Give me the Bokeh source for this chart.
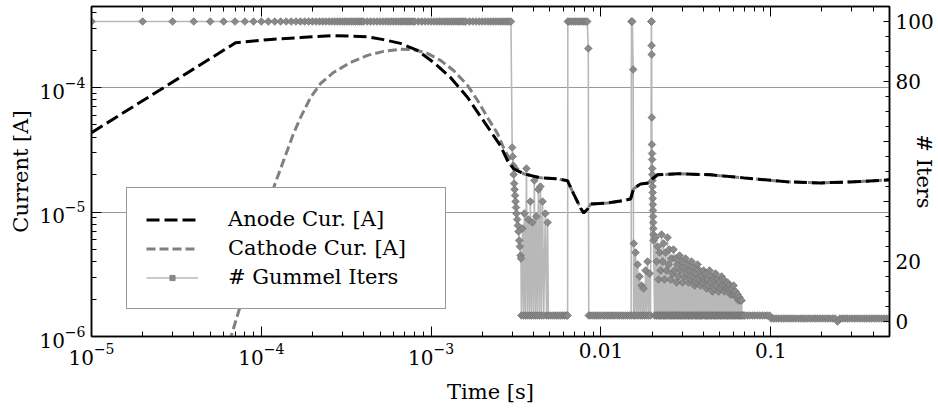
import numpy as np
from bokeh.plotting import figure
from bokeh.models import (Range1d, LinearAxis, LogAxis, FixedTicker, LogTickFormatter, LinearScale,
                          CustomJSTickFormatter, Legend, LegendItem, ColumnDataSource)
from bokeh.embed import file_html
from bokeh.resources import INLINE

# ---------------- data ----------------
anode_time = [1.0e-5, 7.05e-5, 1.088e-4, 1.70e-4, 2.66e-4, 4.22e-4, 5.24e-4, 6.60e-4, 8.31e-4,
              1.033e-3, 1.30e-3, 1.64e-3, 2.03e-3, 2.56e-3, 2.82e-3, 3.06e-3, 3.50e-3, 4.41e-3,
              5.55e-3, 6.36e-3, 6.90e-3, 7.58e-3, 7.90e-3, 8.34e-3, 8.69e-3, 1.094e-2, 1.304e-2,
              1.494e-2, 1.556e-2, 1.711e-2, 1.907e-2, 2.013e-2, 2.154e-2, 2.83e-2, 4.42e-2,
              6.92e-2, 0.1256, 0.1965, 0.3073, 0.5006]
anode_current = [4.34e-5, 2.285e-4, 2.424e-4, 2.517e-4, 2.612e-4, 2.555e-4, 2.424e-4, 2.263e-4,
                 1.988e-4, 1.591e-4, 1.204e-4, 8.31e-5, 5.42e-5, 3.41e-5, 2.58e-5, 2.22e-5,
                 2.03e-5, 1.88e-5, 1.85e-5, 1.78e-5, 1.40e-5, 1.077e-5, 9.81e-6, 1.057e-5,
                 1.16e-5, 1.18e-5, 1.227e-5, 1.273e-5, 1.533e-5, 1.682e-5, 1.713e-5, 1.85e-5,
                 1.99e-5, 2.03e-5, 1.99e-5, 1.88e-5, 1.746e-5, 1.713e-5, 1.746e-5, 1.812e-5]

# cathode current: rising branch, then identical to the anode current after ~3.5 ms
cathode_time_rise = [6.50e-5, 7.44e-5, 8.64e-5, 1.017e-4, 1.18e-4, 1.351e-4, 1.547e-4, 1.70e-4,
                     1.949e-4, 2.232e-4, 2.66e-4, 3.35e-4, 4.22e-4, 5.24e-4, 6.60e-4, 7.87e-4,
                     9.52e-4, 1.136e-3, 1.355e-3, 1.64e-3, 1.877e-3, 2.149e-3, 2.46e-3, 2.67e-3,
                     2.935e-3, 3.23e-3]
cathode_current_rise = [9.1e-7, 1.68e-6, 3.67e-6, 8.15e-6, 1.561e-5, 2.58e-5, 4.26e-5, 5.73e-5,
                        8.31e-5, 1.077e-4, 1.321e-4, 1.591e-4, 1.812e-4, 1.951e-4, 2.025e-4,
                        2.014e-4, 1.88e-4, 1.651e-4, 1.371e-4, 1.038e-4, 7.86e-5, 5.73e-5,
                        4.26e-5, 3.28e-5, 2.58e-5, 2.22e-5]
merge_index = 16  # cathode joins the anode curve from here on

# Gummel iterations per time step (time in ms)
gummel_t_a = [0.01, 0.02, 0.03, 0.04, 0.05, 0.06, 0.07, 0.08, 0.09, 0.10,
              0.11, 0.12, 0.13, 0.14, 0.15, 0.16, 0.17, 0.18, 0.19, 0.20,
              0.21, 0.22, 0.23, 0.24, 0.25, 0.26, 0.27, 0.28, 0.29, 0.30,
              0.31, 0.32, 0.33, 0.34, 0.35, 0.36, 0.37, 0.38, 0.39, 0.40,
              0.42, 0.44, 0.46, 0.48, 0.50, 0.52, 0.54, 0.56, 0.58, 0.60,
              0.62, 0.64, 0.66, 0.68, 0.70, 0.72, 0.74, 0.76, 0.78, 0.80,
              0.84, 0.88, 0.92, 0.96, 1.00, 1.04, 1.08, 1.12, 1.16, 1.20,
              1.24, 1.28, 1.32, 1.36, 1.40, 1.44, 1.48, 1.52, 1.56, 1.60,
              1.68, 1.76, 1.84, 1.92, 2.00, 2.08, 2.16, 2.24, 2.32, 2.40,
              2.48, 2.56, 2.64, 2.72, 2.80, 2.88, 2.95]
gummel_n_a = [100, 100, 100, 100, 100, 100, 100, 100, 100, 100,
              100, 100, 100, 100, 100, 100, 100, 100, 100, 100,
              100, 100, 100, 100, 100, 100, 100, 100, 100, 100,
              100, 100, 100, 100, 100, 100, 100, 100, 100, 100,
              100, 100, 100, 100, 100, 100, 100, 100, 100, 100,
              100, 100, 100, 100, 100, 100, 100, 100, 100, 100,
              100, 100, 100, 100, 100, 100, 100, 100, 100, 100,
              100, 100, 100, 100, 100, 100, 100, 100, 100, 100,
              100, 100, 100, 100, 100, 100, 100, 100, 100, 100,
              100, 100, 100, 100, 100, 100, 100]

gummel_t_b = [3.00, 3.02, 3.04, 3.06, 3.08, 3.10, 3.12, 3.14, 3.16, 3.18, 3.21, 3.24, 3.27, 3.30,
              3.33, 3.36, 3.38,
              3.40, 3.45, 3.50, 3.54, 3.59, 3.64, 3.69, 3.74, 3.79, 3.84, 3.89, 3.94, 4.00, 4.05,
              4.11, 4.16, 4.22, 4.28, 4.34, 4.40, 4.46, 4.53, 4.60, 4.70, 4.78, 4.85, 4.90,
              5.05, 5.20, 5.35, 5.50, 5.65, 5.80, 5.95, 6.10, 6.25, 6.36,
              6.38, 6.50, 6.70, 6.90, 7.10, 7.30, 7.50, 7.70, 7.90, 8.10, 8.30, 8.42, 8.47,
              8.70, 8.95, 9.20, 9.45, 9.70, 10.0, 10.3, 10.6, 10.9, 11.2, 11.5, 11.8, 12.1, 12.45,
              12.8, 13.15, 13.5, 13.9, 14.3, 14.7, 15.05,
              15.12, 15.30, 15.48, 15.56]
gummel_n_b = [58, 55, 52, 49, 46, 44, 42, 40, 38, 36, 34, 32, 30, 27, 25, 22, 21,
              2, 31, 2, 36, 2, 51, 2, 34, 2, 40, 2, 33, 2, 47, 2, 35, 2, 44, 2, 45, 2, 40, 2, 36,
              2, 33, 2,
              2, 2, 2, 2, 2, 2, 2, 2, 2, 2,
              100, 100, 100, 100, 100, 100, 100, 100, 100, 100, 100, 91, 2,
              2, 2, 2, 2, 2, 2, 2, 2, 2, 2, 2, 2, 2, 2, 2, 2, 2, 2, 2, 2, 2,
              100, 100, 84, 2]

gummel_t_c = [15.60, 15.77, 15.98, 16.20, 16.42, 16.64, 16.87, 17.10, 17.34, 17.58, 17.81, 18.05,
              18.30, 18.55, 18.81, 19.07, 19.32, 19.58,
              19.80, 19.83, 19.86, 19.89, 19.92, 19.95, 19.98, 20.01, 20.04, 20.07, 20.10, 20.13,
              20.16, 20.19, 20.22, 20.25, 20.28, 20.31, 20.34, 20.37, 20.40, 20.68]
gummel_n_c = [26, 2, 23, 2, 19, 2, 15, 2, 12, 2, 11, 2, 17, 2, 20, 2, 16, 2,
              100, 100, 92, 89, 68, 59, 56, 54, 51, 49, 47, 45, 43, 41, 39, 37, 35, 33, 31, 29,
              27, 2]

# 20-68 ms: every step alternates between a converging step (upper band) and a 2-iteration step
gummel_t_band = [20.96, 21.25, 21.54, 21.83, 22.13, 22.43, 22.74, 23.05, 23.36, 23.68,
                 24.00, 24.33, 24.66, 25.00, 25.34, 25.69, 26.04, 26.39, 26.75, 27.12,
                 27.49, 27.86, 28.25, 28.63, 29.02, 29.42, 29.82, 30.23, 30.64, 31.06,
                 31.48, 31.91, 32.35, 32.79, 33.24, 33.69, 34.15, 34.62, 35.09, 35.57,
                 36.05, 36.54, 37.04, 37.55, 38.06, 38.58, 39.11, 39.64, 40.18, 40.73,
                 41.29, 41.85, 42.42, 43.00, 43.59, 44.18, 44.79, 45.40, 46.02, 46.65,
                 47.28, 47.93, 48.58, 49.24, 49.92, 50.60, 51.29, 51.99, 52.70, 53.42,
                 54.15, 54.89, 55.64, 56.40, 57.17, 57.95, 58.74, 59.54, 60.35, 61.17,
                 62.01, 62.86, 63.71, 64.58, 65.47, 66.36, 67.26]
gummel_n_band = [28, 20, 25, 14, 23, 17, 29, 20, 26, 14, 23, 17, 28, 19, 24, 14, 21, 16,
                 24, 17, 21, 13, 19, 15, 22, 17, 20, 13, 18, 15, 21, 16, 19, 13, 17, 14,
                 20, 15, 18, 12, 16, 13, 19, 14, 17, 12, 15, 13, 17, 14, 16, 11, 14, 12,
                 17, 13, 15, 10, 14, 11, 16, 12, 14, 10, 13, 11, 15, 12, 14, 10, 12, 11,
                 13, 11, 12, 9, 11, 9, 12, 9, 10, 8, 9, 7, 8, 7, 7]
gummel_t_band_low = [21.10, 21.39, 21.68, 21.98, 22.28, 22.58, 22.89, 23.21, 23.52, 23.84,
                     24.16, 24.50, 24.83, 25.17, 25.51, 25.86, 26.22, 26.57, 26.94, 27.30,
                     27.68, 28.05, 28.44, 28.82, 29.22, 29.62, 30.02, 30.43, 30.85, 31.27,
                     31.70, 32.13, 32.57, 33.01, 33.46, 33.92, 34.38, 34.85, 35.33, 35.81,
                     36.30, 36.79, 37.29, 37.80, 38.32, 38.84, 39.37, 39.91, 40.46, 41.01,
                     41.57, 42.13, 42.71, 43.29, 43.88, 44.48, 45.09, 45.71, 46.33, 46.96,
                     47.60, 48.25, 48.91, 49.58, 50.26, 50.94, 51.64, 52.34, 53.06, 53.78,
                     54.52, 55.26, 56.01, 56.78, 57.55, 58.34, 59.13, 59.94, 60.76, 61.59,
                     62.43, 63.28, 64.14, 65.02, 65.91, 66.81, 67.72]
band_low_iters = 2

gummel_t_d = [68.6, 69.5, 70.5, 72.9, 75.4, 78.0, 80.6, 83.3, 86.1, 89.0, 92.0, 95.1, 98.3,
              100.5, 104, 107.5, 111, 115, 119, 123, 127, 131, 135.5, 140, 145, 150, 155, 160,
              165.5, 171, 177, 183, 189, 195.5, 202, 209, 216, 223, 231, 239, 247, 255, 264, 273,
              282, 292, 302, 312, 322, 333, 344, 356, 368, 380, 393, 406, 420, 434, 449, 464, 480,
              496, 512]
gummel_n_d = [2, 2, 2, 2, 2, 2, 2, 2, 2, 2, 2, 2, 2,
              1, 1, 1, 1, 1, 1, 1, 1, 1, 1, 1, 1, 1, 1, 1,
              1, 1, 1, 1, 1, 1, 1, 1, 1, 1, 1, 1, 0, 1, 1, 1,
              1, 1, 1, 1, 1, 1, 1, 1, 1, 1, 1, 1, 1, 1, 1, 1, 1,
              1, 1]

x_major_ticks = [1e-5, 1e-4, 1e-3, 1e-2, 1e-1]
y_major_ticks = [1e-6, 1e-5, 1e-4]
iter_ticks = [0, 20, 40, 60, 80, 100]

# ---------------- build ----------------
FONT = "DejaVu Serif"

cathode_time = cathode_time_rise + anode_time[merge_index:]
cathode_current = cathode_current_rise + anode_current[merge_index:]

band_t, band_n = [], []
for th, nh, tl in zip(gummel_t_band, gummel_n_band, gummel_t_band_low):
    band_t += [th, tl]
    band_n += [nh, band_low_iters]

g_t = gummel_t_a + gummel_t_b + gummel_t_c + band_t + gummel_t_d
g_n = gummel_n_a + gummel_n_b + gummel_n_c + band_n + gummel_n_d
n = min(len(g_t), len(g_n))
gsrc = ColumnDataSource(dict(t=np.array(g_t[:n]) * 1e-3, n=g_n[:n]))

Y_TOP = 4.474e-4
p = figure(width=938, height=408, x_axis_type="log", y_axis_type="log",
           x_range=Range1d(1e-5, 0.5), y_range=Range1d(1e-6, Y_TOP),
           output_backend="svg", toolbar_location=None,
           min_border_left=91, min_border_right=49, min_border_top=6, min_border_bottom=72,
           background_fill_color="white", border_fill_color="white")
p.extra_y_ranges = {"iters": Range1d(-5, 105)}
p.extra_y_scales = {"iters": LinearScale()}
p.outline_line_color = "black"
p.outline_line_width = 1.5

x_minor = [m * d for d in x_major_ticks for m in range(2, 10) if m * d <= 0.5]
y_minor = [m * d for d in y_major_ticks for m in range(2, 10) if m * d <= Y_TOP]
xticker = FixedTicker(ticks=x_major_ticks, minor_ticks=x_minor)
yticker = FixedTicker(ticks=y_major_ticks, minor_ticks=y_minor)


def style_axis(ax, major_in, minor_in):
    ax.major_tick_in = major_in
    ax.major_tick_out = 0
    ax.minor_tick_in = minor_in
    ax.minor_tick_out = 0
    ax.major_tick_line_color = "black"
    ax.minor_tick_line_color = "black"
    ax.axis_line_color = "black"
    ax.axis_line_width = 1.5
    ax.major_label_text_font = FONT
    ax.major_label_text_font_size = "20px"
    ax.major_label_text_color = "black"
    ax.axis_label_text_font = FONT
    ax.axis_label_text_font_size = "21px"
    ax.axis_label_text_font_style = "normal"
    ax.axis_label_text_color = "black"


xa = p.xaxis[0]
xa.ticker = xticker
xa.formatter = LogTickFormatter()
xa.major_label_overrides = {0.01: "0.01", 0.1: "0.1"}
xa.axis_label = "Time [s]"
style_axis(xa, 10, 5)
xa.major_label_standoff = 6
xa.axis_label_standoff = 12

ya = p.yaxis[0]
ya.ticker = yticker
ya.formatter = LogTickFormatter()
ya.axis_label = "Current [A]"
style_axis(ya, 10, 5)
ya.major_label_standoff = 6
ya.axis_label_standoff = 3

top = LogAxis(ticker=xticker, formatter=CustomJSTickFormatter(code="return ''"))
style_axis(top, 10, 5)
top.major_label_text_font_size = "0px"
top.major_label_standoff = 0
p.add_layout(top, "above")

ra = LinearAxis(y_range_name="iters",
                ticker=FixedTicker(ticks=iter_ticks, minor_ticks=list(range(0, 105, 5))))
style_axis(ra, 6, 4)
ra.major_label_overrides = {40: "", 60: ""}
ra.major_label_standoff = 6
ra.axis_label = "# Iters"
ra.axis_label_standoff = -25
p.add_layout(ra, "right")

p.xgrid.visible = False
p.ygrid.ticker = yticker
p.ygrid.grid_line_color = "#9a9a9a"
p.ygrid.grid_line_width = 1

g_line = p.line(x="t", y="n", source=gsrc, y_range_name="iters",
                line_color="#b8b8b8", line_width=1.6)
g_pts = p.scatter(x="t", y="n", source=gsrc, y_range_name="iters", marker="square",
                  angle=np.pi / 4, size=5.4, fill_color="#8a8a8a", line_color="#707070",
                  line_width=0.7)
cat_r = p.line(cathode_time, cathode_current, line_color="#808080", line_width=3,
               line_dash="9 4")
an_r = p.line(anode_time, anode_current, line_color="black", line_width=3, line_dash="13 5")

legend = Legend(items=[LegendItem(label="Anode Cur. [A]", renderers=[an_r]),
                       LegendItem(label="Cathode Cur. [A]", renderers=[cat_r]),
                       LegendItem(label="# Gummel Iters", renderers=[g_line, g_pts])],
                location=(35, 27), margin=0, padding=19, spacing=5,
                glyph_width=52, glyph_height=13, label_standoff=30, label_width=198,
                label_text_font=FONT, label_text_font_size="21px", label_text_color="black",
                border_line_color="#333333", border_line_width=1,
                background_fill_color="white", background_fill_alpha=1)
p.add_layout(legend)

open("out.html", "w").write(file_html(p, INLINE))
